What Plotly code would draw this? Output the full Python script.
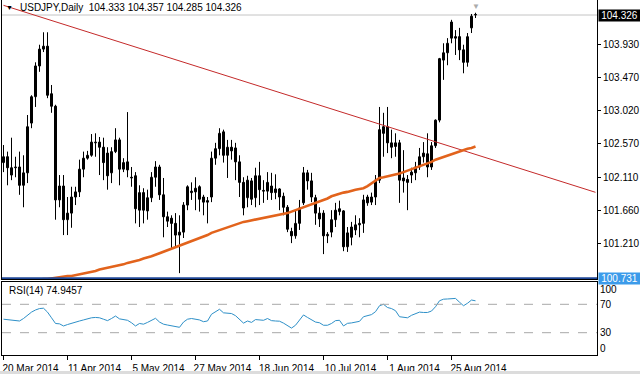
import plotly.graph_objects as go

# ---------------- data ----------------
tick_labels = ["20 Mar 2014", "11 Apr 2014", "5 May 2014", "27 May 2014",
               "18 Jun 2014", "10 Jul 2014", "1 Aug 2014", "25 Aug 2014"]
tick_bars = [0, 16, 32, 48, 64, 80, 96, 112]

opens = [102.31, 102.39, 102.14, 102.24, 102.25, 102.00, 102.17, 102.85, 103.21, 103.63,
         103.86, 103.90, 103.25, 103.08, 101.80, 101.99, 101.53, 101.62, 101.84, 101.91,
         102.22, 102.37, 102.41, 102.58, 102.59, 102.52, 102.44, 102.17, 102.46, 102.62,
         102.22, 102.32, 102.11, 102.13, 101.66, 101.90, 101.65, 101.83, 102.11, 102.25,
         101.87, 101.57, 101.55, 101.48, 101.32, 101.36, 101.73, 101.90, 101.91, 101.98,
         101.84, 101.79, 101.84, 102.37, 102.50, 102.73, 102.41, 102.52, 102.51, 102.32,
         102.04, 101.83, 102.06, 101.83, 102.13, 101.93, 101.92, 101.99, 101.90, 101.95,
         101.85, 101.70, 101.37, 101.31, 101.48, 101.76, 102.17, 102.06, 101.83, 101.54,
         101.62, 101.31, 101.36, 101.53, 101.64, 101.65, 101.16, 101.29, 101.39, 101.46,
         101.48, 101.76, 101.77, 101.84, 102.07, 102.80, 102.80, 102.52, 102.53, 102.58,
         102.10, 102.08, 102.14, 102.17, 102.25, 102.39, 102.43, 102.25, 102.54, 102.89,
         103.71, 103.81, 104.23, 104.03, 104.03, 103.85, 103.68, 104.15, 104.333]
highs = [102.55, 102.46, 102.65, 102.39, 102.46, 102.41, 102.96, 103.23, 103.68, 103.92,
         104.09, 104.09, 103.37, 103.10, 102.14, 102.14, 101.84, 101.98, 101.98, 102.35,
         102.46, 102.47, 102.70, 102.71, 102.66, 102.65, 102.52, 102.52, 102.78, 102.65,
         102.37, 103.00, 102.25, 102.18, 102.00, 101.96, 101.94, 102.18, 102.33, 102.28,
         102.10, 101.64, 101.59, 101.62, 101.59, 101.77, 102.00, 102.04, 102.11, 102.00,
         101.87, 101.84, 102.46, 102.58, 102.78, 102.76, 102.62, 102.62, 102.58, 102.41,
         102.11, 102.13, 102.10, 102.24, 102.32, 102.07, 102.18, 102.17, 102.15, 101.96,
         101.90, 101.73, 101.42, 101.66, 101.80, 102.25, 102.21, 102.17, 101.87, 101.70,
         101.66, 101.36, 101.66, 101.76, 101.79, 101.66, 101.43, 101.50, 101.59, 101.55,
         101.87, 101.87, 101.90, 102.14, 103.07, 102.99, 103.07, 102.76, 102.71, 102.62,
         102.48, 102.14, 102.24, 102.32, 102.51, 102.59, 102.71, 102.59, 102.90, 103.74,
         103.94, 104.01, 104.26, 104.12, 104.15, 103.92, 104.08, 104.34, 104.357]
lows = [102.18, 102.00, 102.07, 102.11, 101.87, 101.70, 102.03, 102.78, 103.07, 103.55,
        103.82, 103.19, 102.99, 101.53, 101.70, 101.32, 101.32, 101.42, 101.73, 101.84,
        102.11, 102.35, 102.39, 102.39, 102.14, 102.07, 101.94, 102.03, 102.44, 102.00,
        102.18, 102.11, 101.98, 101.48, 101.43, 101.48, 101.53, 101.77, 101.98, 101.80,
        101.29, 101.43, 101.12, 101.16, 100.80, 101.28, 101.66, 101.80, 101.66, 101.64,
        101.59, 101.48, 101.77, 102.28, 102.41, 102.31, 102.10, 102.35, 102.07, 101.84,
        101.59, 101.70, 101.73, 101.70, 101.73, 101.76, 101.80, 101.80, 101.81, 101.66,
        101.59, 101.36, 101.21, 101.27, 101.39, 101.73, 101.94, 101.77, 101.46, 101.43,
        101.06, 101.21, 101.29, 101.43, 101.59, 101.10, 101.09, 101.18, 101.32, 101.29,
        101.35, 101.72, 101.73, 101.73, 102.03, 102.39, 102.44, 102.37, 102.39, 101.76,
        101.90, 101.66, 102.03, 102.07, 102.21, 102.31, 102.11, 102.21, 102.51, 102.86,
        103.44, 103.64, 103.94, 103.78, 103.71, 103.53, 103.62, 104.08, 104.285]
closes = [102.39, 102.24, 102.24, 102.25, 102.00, 102.17, 102.80, 103.21, 103.63, 103.86,
          103.90, 103.23, 103.08, 101.80, 101.99, 101.53, 101.62, 101.84, 101.91, 102.22,
          102.37, 102.41, 102.59, 102.59, 102.52, 102.31, 102.13, 102.46, 102.62, 102.22,
          102.31, 102.21, 102.10, 101.68, 101.90, 101.66, 101.83, 102.11, 102.25, 101.87,
          101.57, 101.51, 101.48, 101.32, 101.36, 101.73, 101.98, 101.92, 101.96, 101.81,
          101.77, 101.77, 102.37, 102.50, 102.71, 102.41, 102.52, 102.47, 102.32, 102.04,
          101.69, 102.07, 101.81, 102.13, 101.94, 101.92, 102.04, 101.90, 101.95, 101.84,
          101.70, 101.40, 101.31, 101.48, 101.69, 102.17, 102.06, 101.84, 101.62, 101.62,
          101.31, 101.33, 101.53, 101.66, 101.68, 101.16, 101.35, 101.43, 101.46, 101.48,
          101.80, 101.84, 101.84, 102.07, 102.76, 102.71, 102.58, 102.58, 102.58, 102.07,
          102.06, 102.04, 102.18, 102.25, 102.39, 102.44, 102.25, 102.54, 102.89, 103.73,
          103.81, 103.94, 104.01, 104.01, 103.85, 103.68, 104.03, 104.31, 104.326]

ma_values = [100.65, 100.66, 100.66, 100.67, 100.68, 100.68, 100.69, 100.70, 100.70, 100.71,
             100.72, 100.72, 100.73, 100.74, 100.74, 100.75, 100.76, 100.76, 100.77, 100.78,
             100.79, 100.81, 100.82, 100.83, 100.85, 100.86, 100.87, 100.88, 100.90, 100.91,
             100.92, 100.94, 100.95, 100.97, 100.98, 101.00, 101.01, 101.03, 101.05, 101.07,
             101.09, 101.11, 101.13, 101.16, 101.18, 101.20, 101.22, 101.24, 101.26, 101.28,
             101.30, 101.32, 101.35, 101.37, 101.39, 101.41, 101.43, 101.45, 101.46, 101.48,
             101.50, 101.51, 101.52, 101.53, 101.54, 101.55, 101.56, 101.57, 101.58, 101.59,
             101.61, 101.62, 101.64, 101.66, 101.68, 101.69, 101.71, 101.73, 101.76, 101.78,
             101.80, 101.82, 101.85, 101.87, 101.89, 101.90, 101.91, 101.93, 101.94, 101.95,
             101.96, 101.99, 102.03, 102.07, 102.10, 102.11, 102.12, 102.14, 102.15, 102.16,
             102.18, 102.20, 102.22, 102.23, 102.25, 102.27, 102.30, 102.32, 102.35, 102.37,
             102.39, 102.41, 102.42, 102.44, 102.46, 102.48, 102.50, 102.51, 102.53]

rsi_values = [49, 48.5, 48, 48, 46.5, 50, 55, 59, 62, 64,
              64.5, 59, 51, 43, 42.5, 39.5, 41.5, 43.5, 45, 46.5,
              48, 50, 51, 51.5, 51, 49, 47, 50, 53.5, 49.5,
              48.5, 47.5, 44, 39.5, 43, 42, 44.5, 47.5, 50.3, 45,
              42, 40.8, 40, 39, 37.6, 45, 49, 50, 49.5, 48,
              45.5, 46.5, 56, 60, 63, 58, 57.3, 57, 54, 49,
              43.5, 46.5, 44.5, 48.5, 48.5, 47.5, 50, 47, 46.5, 46.2,
              43.5, 40, 36.5, 40.5, 47, 55, 51.5, 48, 45, 44,
              40.5, 40.5, 43, 47, 47.5, 39.5, 43.2, 43.8, 44.8, 46,
              52.5, 53.5, 55.5, 59.6, 68, 70, 65.5, 64, 61, 52.5,
              51.8, 51, 54.5, 56.5, 59, 58.5, 58.5, 60.5, 66.6, 75,
              77.2, 77.5, 78, 78.3, 73, 68, 71.5, 76, 74.9457]

trend_bars = [0, 148]
trend_prices = [104.458, 101.904]

bid_price = 104.326
hline_price = 100.731
rsi_levels = [30, 70]
price_ticks = [101.21, 101.66, 102.11, 102.57, 103.02, 103.47, 103.93]
rsi_tick_labels = ["0", "30", "70", "100"]
rsi_tick_pos = [7.5, 30, 70, 91.5]

title_text = "USDJPY,Daily&nbsp;&nbsp;104.333 104.357 104.285 104.326"
rsi_text = "RSI(14) 74.9457"

# ---------------- figure ----------------
n = len(opens)
idx = list(range(n))
FONT = "Liberation Sans, Arial, sans-serif"

fig = go.Figure()

wx, wy = [], []
for i in idx:
    wx += [i, i, None]
    wy += [lows[i], highs[i], None]
fig.add_trace(go.Scatter(x=wx, y=wy, mode="lines", line=dict(color="black", width=1),
                         hoverinfo="skip", xaxis="x", yaxis="y"))

up = [i for i in idx if closes[i] >= opens[i]]
dn = [i for i in idx if closes[i] < opens[i]]
fig.add_trace(go.Bar(x=up, base=[opens[i] for i in up],
                     y=[max(closes[i] - opens[i], 0.008) for i in up], width=0.5,
                     marker=dict(color="white", line=dict(color="black", width=1)),
                     xaxis="x", yaxis="y", hoverinfo="skip"))
fig.add_trace(go.Bar(x=dn, base=[closes[i] for i in dn],
                     y=[max(opens[i] - closes[i], 0.008) for i in dn], width=0.5,
                     marker=dict(color="black", line=dict(color="black", width=1)),
                     xaxis="x", yaxis="y", hoverinfo="skip"))

fig.add_trace(go.Scatter(x=trend_bars, y=trend_prices, mode="lines",
                         line=dict(color="#C42A2A", width=1), xaxis="x", yaxis="y", hoverinfo="skip"))
fig.add_trace(go.Scatter(x=idx, y=ma_values, mode="lines",
                         line=dict(color="#E2631C", width=2.6), xaxis="x", yaxis="y", hoverinfo="skip"))

fig.add_trace(go.Scatter(x=idx, y=rsi_values, mode="lines",
                         line=dict(color="#2E90C8", width=1), xaxis="x2", yaxis="y2", hoverinfo="skip"))

xr = [-0.375, 148.375]
axis_common = dict(showline=True, mirror=True, linecolor="black", linewidth=1,
                   showgrid=False, zeroline=False)

fig.update_layout(
    width=640, height=374,
    margin=dict(l=2, r=43, t=0, b=19),
    paper_bgcolor="white", plot_bgcolor="white",
    showlegend=False, barmode="overlay", hovermode=False,
    font=dict(family=FONT, size=10, color="black"),
    xaxis=dict(domain=[0, 1], anchor="y", range=xr, showticklabels=False, ticks="", **axis_common),
    yaxis=dict(domain=[0.2141, 1], anchor="x", side="right", range=[100.72, 104.531],
               tickvals=price_ticks, tickformat=".3f", ticks="outside", ticklen=3,
               tickcolor="black", **axis_common),
    xaxis2=dict(domain=[0, 1], anchor="y2", range=xr, tickvals=tick_bars, ticktext=tick_labels,
                ticks="outside", ticklen=4, tickcolor="black", ticklabelshift=27, **axis_common),
    yaxis2=dict(domain=[0, 0.2056], anchor="x2", side="right", range=[-1.4, 101.4],
                tickvals=rsi_tick_pos, ticktext=rsi_tick_labels, ticks="", **axis_common),
)

shapes = []
for lv in rsi_levels:
    shapes.append(dict(type="line", xref="x2 domain", yref="y2", x0=0, x1=1, y0=lv, y1=lv,
                       line=dict(color="#A8A8A8", width=1, dash="dash")))
shapes.append(dict(type="line", xref="x domain", yref="y", x0=0, x1=1, y0=bid_price, y1=bid_price,
                   line=dict(color="#C4C4C4", width=1), layer="below"))
shapes.append(dict(type="line", xref="x domain", yref="y", x0=0, x1=1, y0=hline_price, y1=hline_price,
                   line=dict(color="#1E4696", width=2)))
shapes.append(dict(type="rect", xref="paper", yref="paper", x0=-0.01, x1=1.08, y0=-0.054, y1=-0.045,
                   fillcolor="#DCDCDC", line=dict(width=0)))
fig.update_layout(shapes=shapes)

ann = [
    dict(xref="paper", yref="paper", x=0.0118, y=0.979, text="\u25BC", showarrow=False,
         font=dict(size=7, color="black"), xanchor="center", yanchor="middle"),
    dict(xref="paper", yref="paper", x=0.0269, y=0.979, text=title_text, showarrow=False,
         font=dict(size=10, color="black"), xanchor="left", yanchor="middle"),
    dict(xref="x", yref="paper", x=118, y=1.0, text="\u25BC", showarrow=False,
         font=dict(size=8, color="#ABABAB"), xanchor="center", yanchor="top"),
    dict(xref="paper", yref="y", x=1, xshift=1, y=bid_price, text="%.3f" % bid_price, showarrow=False,
         font=dict(size=10, color="white"), bgcolor="black", xanchor="left", yanchor="middle",
         borderpad=0, width=41),
    dict(xref="paper", yref="y", x=1, xshift=1, y=hline_price, text="%.3f" % hline_price, showarrow=False,
         font=dict(size=10, color="white"), bgcolor="#3C9BEA", xanchor="left", yanchor="middle",
         borderpad=0, width=41),
    dict(xref="paper", yref="paper", x=0.0084, y=0.1803, text=rsi_text, showarrow=False,
         font=dict(size=10, color="black"), xanchor="left", yanchor="middle"),
]
fig.update_layout(annotations=ann)

fig.write_html("out.html", config={"displayModeBar": False},
               post_script="document.body.style.margin='0px';")
